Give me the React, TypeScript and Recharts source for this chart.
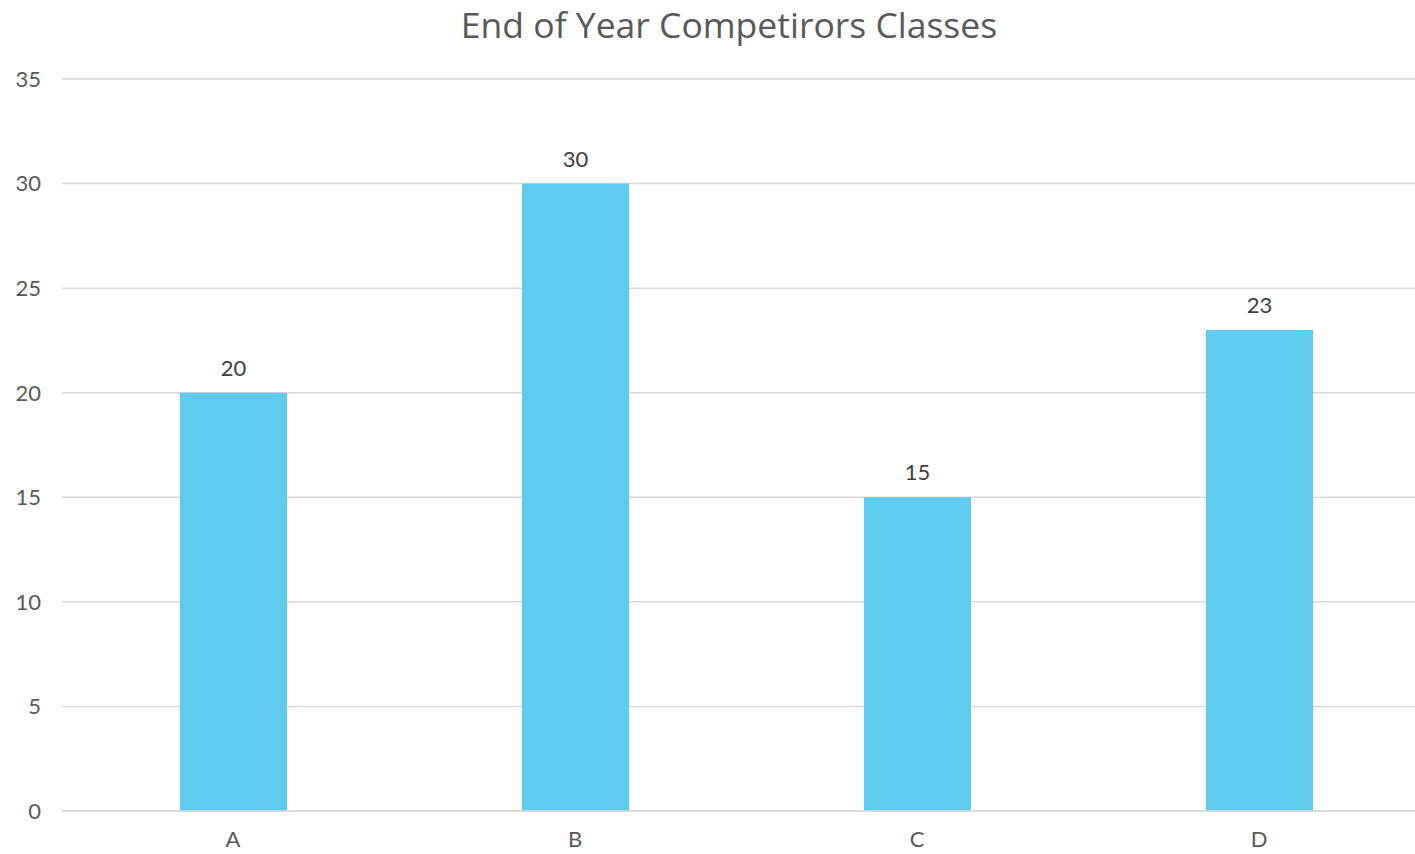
import React from "react";
import { BarChart, Bar, XAxis, YAxis, CartesianGrid, LabelList } from "recharts";

const categories = ["A", "B", "C", "D"];
const values = [20, 30, 15, 23];
const yTicks = [0, 5, 10, 15, 20, 25, 30, 35];
const title = "End of Year Competirors Classes";

const data = categories.map((c, i) => ({ name: c, value: values[i] }));

const FONT = "Lato, 'Open Sans', sans-serif";
const TITLE_FONT = "'Open Sans', Lato, sans-serif";

export default function App() {
  return (
    <div style={{ position: "fixed", left: 0, top: 0, width: 1415, height: 854, overflow: "hidden", background: "#fff" }}>
      <div
        style={{
          position: "absolute",
          left: 0,
          width: 1458,
          top: 1,
          textAlign: "center",
          fontFamily: TITLE_FONT,
          fontSize: 35.5,
          color: "#595959",
          lineHeight: "46px",
        }}
      >
        {title}
      </div>
      <BarChart
        width={1440}
        height={854}
        data={data}
        margin={{ top: 79, right: 10, left: 0, bottom: 0 }}
      >
        <CartesianGrid vertical={false} stroke="#D9D9D9" strokeWidth={1.5} />
        <XAxis
          dataKey="name"
          axisLine={{ stroke: "#D9D9D9", strokeWidth: 1.5 }}
          tickLine={false}
          tick={{ fill: "#595959", fontSize: 22, fontFamily: FONT }}
          tickMargin={14}
          height={43}
        />
        <YAxis
          domain={[0, 35]}
          ticks={yTicks}
          axisLine={false}
          tickLine={false}
          tickSize={0}
          tickMargin={21}
          width={62}
          tick={{ fill: "#595959", fontSize: 22, fontFamily: FONT }}
        />
        <Bar dataKey="value" fill="#5ECBEF" barSize={107} isAnimationActive={false}>
          <LabelList dataKey="value" position="top" offset={17} fill="#404040" fontSize={22} fontFamily={FONT} />
        </Bar>
      </BarChart>
    </div>
  );
}
